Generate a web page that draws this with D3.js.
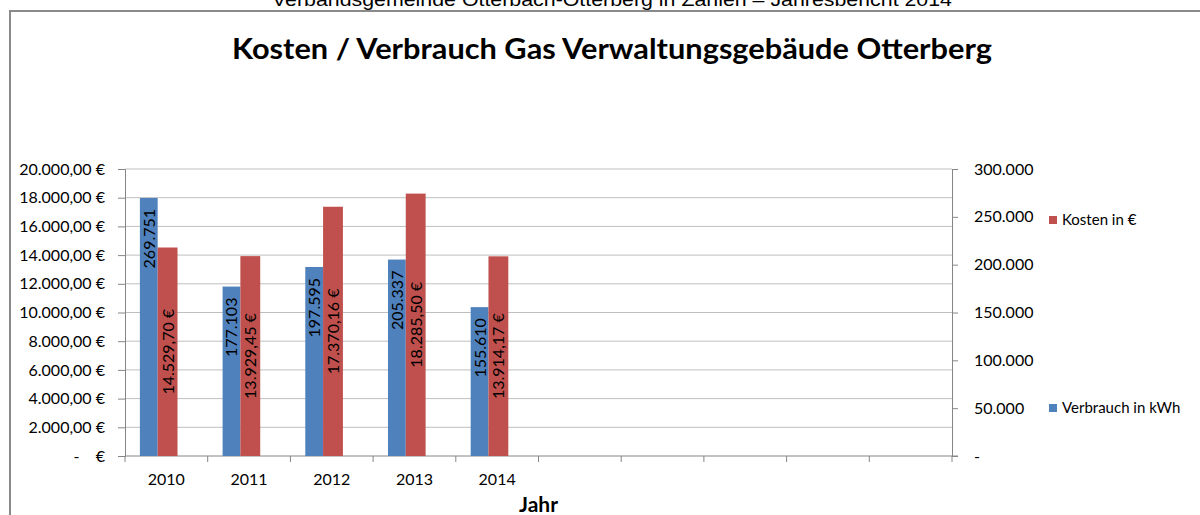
<!DOCTYPE html>
<html>
  <head>
    <meta charset="utf-8">
    <style>
      body { margin: 0; background: #fff; }
      text { font-family: Lato, "Open Sans", sans-serif; fill: #000; }
      .tick text { font-size: 16px; }
      .grid line { stroke: #bfbfbf; stroke-width: 1; }
      .axis path, .axis line { stroke: #868686; }
    </style>
    <script src="https://d3js.org/d3.v7.min.js"></script>
  </head>

  <body>
    <svg width="1200" height="515"></svg>

    <script>
      // chart data
      var years = ["2010", "2011", "2012", "2013", "2014", "", "", "", "", ""];
      var verbrauch = [269751, 177103, 197595, 205337, 155610]; // kWh, right axis
      var kosten = [14529.70, 13929.45, 17370.16, 18285.50, 13914.17]; // €, left axis
      var kostenTicks = [0, 2000, 4000, 6000, 8000, 10000, 12000, 14000, 16000, 18000, 20000];
      var verbrauchTicks = [0, 50000, 100000, 150000, 200000, 250000, 300000];

      var de = d3.formatLocale({ decimal: ",", thousands: ".", grouping: [3], currency: ["", " €"] });
      var fmtEuro = de.format(",.2f"),
        fmtInt = de.format(",.0f");

      var svg = d3.select("svg");

      var plotL = 125, plotR = 952, plotT = 169, plotB = 456;

      var x = d3.scaleBand().domain(d3.range(years.length)).range([plotL, plotR]);
      var yL = d3.scaleLinear().domain([0, 20000]).range([plotB, plotT]);
      var yR = d3.scaleLinear().domain([0, 300000]).range([plotB, plotT]);
      var bw = x.bandwidth();

      // page header (cut off at top) and frame
      svg.append("text")
        .attr("x", 612).attr("y", 6)
        .attr("text-anchor", "middle")
        .attr("textLength", 680).attr("lengthAdjust", "spacingAndGlyphs")
        .style("font-family", "'Liberation Sans', Arial, sans-serif")
        .style("font-size", "18px")
        .text("Verbandsgemeinde Otterbach-Otterberg in Zahlen – Jahresbericht 2014");

      svg.append("path")
        .attr("d", "M10,515 V11 H1200")
        .attr("fill", "none")
        .attr("stroke", "#8a8a8a")
        .attr("stroke-width", 2);

      svg.append("text")
        .attr("x", 612).attr("y", 59)
        .attr("text-anchor", "middle")
        .attr("textLength", 760).attr("lengthAdjust", "spacingAndGlyphs")
        .style("font-size", "28px").style("font-weight", "bold")
        .text("Kosten / Verbrauch Gas Verwaltungsgebäude Otterberg");

      // gridlines
      svg.append("g").attr("class", "grid")
        .selectAll("line").data(kostenTicks.slice(1)).enter().append("line")
        .attr("x1", plotL).attr("x2", plotR)
        .attr("y1", function (d) { return yL(d); })
        .attr("y2", function (d) { return yL(d); });

      // left axis
      svg.append("g").attr("class", "axis")
        .attr("transform", "translate(" + plotL + ",0)")
        .call(d3.axisLeft(yL).tickValues(kostenTicks).tickSize(7).tickPadding(13)
          .tickFormat(function (d) { return d === 0 ? "-    €" : fmtEuro(d) + " €"; }))
        .call(function (g) { g.selectAll("text").style("white-space", "pre"); });

      // right axis
      svg.append("g").attr("class", "axis")
        .attr("transform", "translate(" + plotR + ",0)")
        .call(d3.axisRight(yR).tickValues(verbrauchTicks).tickSizeInner(6).tickSizeOuter(0).tickPadding(16)
          .tickFormat(function (d) { return d === 0 ? "-" : fmtInt(d); }));

      // bottom axis: ticks at band edges, labels centred
      var xAxis = svg.append("g").attr("class", "axis");
      xAxis.append("line")
        .attr("x1", plotL).attr("x2", plotR + 6)
        .attr("y1", plotB).attr("y2", plotB);
      xAxis.selectAll(".edge").data(d3.range(years.length + 1)).enter().append("line")
        .attr("class", "edge")
        .attr("x1", function (i) { return plotL + i * bw; })
        .attr("x2", function (i) { return plotL + i * bw; })
        .attr("y1", plotB).attr("y2", plotB + 6);
      xAxis.selectAll(".lbl").data(d3.range(years.length)).enter().append("text")
        .attr("class", "lbl")
        .attr("x", function (i) { return x(i) + bw / 2; })
        .attr("y", 485)
        .attr("text-anchor", "middle")
        .style("font-size", "16px")
        .text(function (i) { return years[i]; });

      // bars
      var bx = 0.18 * bw, bwid = 0.215 * bw, rx = 0.395 * bw, rwid = 0.24 * bw;

      svg.selectAll(".blue").data(verbrauch).enter().append("rect")
        .attr("class", "blue")
        .attr("x", function (d, i) { return x(i) + bx; })
        .attr("y", function (d) { return yR(d); })
        .attr("width", bwid)
        .attr("height", function (d) { return plotB - yR(d); })
        .attr("fill", "#4f81bd");

      svg.selectAll(".red").data(kosten).enter().append("rect")
        .attr("class", "red")
        .attr("x", function (d, i) { return x(i) + rx; })
        .attr("y", function (d) { return yL(d); })
        .attr("width", rwid)
        .attr("height", function (d) { return plotB - yL(d); })
        .attr("fill", "#c0504d");

      // data labels, rotated
      svg.selectAll(".blab").data(verbrauch).enter().append("text")
        .attr("class", "blab")
        .attr("transform", function (d, i) {
          return "translate(" + (x(i) + bx + bwid / 2 + 6) + "," + (yR(d) + 11) + ") rotate(-90)";
        })
        .attr("text-anchor", "end")
        .style("font-size", "16px")
        .text(function (d) { return fmtInt(d); });

      svg.selectAll(".rlab").data(kosten).enter().append("text")
        .attr("class", "rlab")
        .attr("transform", function (d, i) {
          return "translate(" + (x(i) + rx + rwid / 2 + 6) + "," + ((yL(d) + plotB) / 2) + ") rotate(-90)";
        })
        .attr("text-anchor", "middle")
        .style("font-size", "16px")
        .text(function (d) { return fmtEuro(d) + " €"; });

      // legend
      var legend = [
        { label: "Kosten in €", color: "#c0504d", y: 220 },
        { label: "Verbrauch in kWh", color: "#4f81bd", y: 408 }
      ];
      var lg = svg.selectAll(".leg").data(legend).enter().append("g").attr("class", "leg");
      lg.append("rect")
        .attr("x", 1049).attr("y", function (d) { return d.y - 4; })
        .attr("width", 8).attr("height", 8)
        .attr("fill", function (d) { return d.color; });
      lg.append("text")
        .attr("x", 1062).attr("y", function (d) { return d.y + 5; })
        .style("font-size", "15px")
        .text(function (d) { return d.label; });

      // x axis title
      svg.append("text")
        .attr("x", (plotL + plotR) / 2).attr("y", 512)
        .attr("text-anchor", "middle")
        .style("font-size", "21px").style("font-weight", "bold")
        .text("Jahr");
    </script>
  </body>
</html>
